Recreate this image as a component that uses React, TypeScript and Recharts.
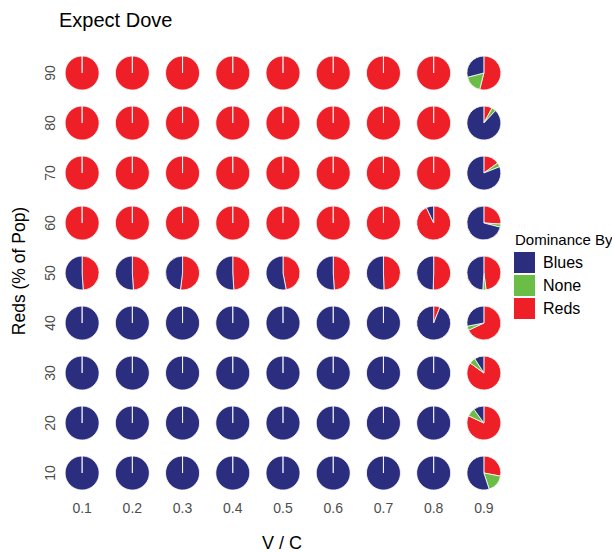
import { ScatterChart, Scatter, XAxis, YAxis, Sector } from "recharts";

const vcValues = [0.1, 0.2, 0.3, 0.4, 0.5, 0.6, 0.7, 0.8, 0.9];
const redsPct = [10, 20, 30, 40, 50, 60, 70, 80, 90];

// one row per redsPct, one column per vcValues
const redsShare = [
  [0, 0, 0, 0, 0, 0, 0, 0, 0.28],
  [0, 0, 0, 0, 0, 0, 0, 0, 0.82],
  [0, 0, 0, 0, 0, 0, 0, 0, 0.85],
  [0, 0, 0, 0, 0, 0, 0, 0.06, 0.68],
  [0.49, 0.49, 0.52, 0.49, 0.47, 0.49, 0.495, 0.505, 0.48],
  [1, 1, 1, 1, 1, 1, 1, 0.93, 0.26],
  [1, 1, 1, 1, 1, 1, 1, 1, 0.15],
  [1, 1, 1, 1, 1, 1, 1, 1, 0.08],
  [1, 1, 1, 1, 1, 1, 1, 1, 0.54],
];
const noneShare = [
  [0, 0, 0, 0, 0, 0, 0, 0, 0.17],
  [0, 0, 0, 0, 0, 0, 0, 0, 0.08],
  [0, 0, 0, 0, 0, 0, 0, 0, 0.06],
  [0, 0, 0, 0, 0, 0, 0, 0, 0.04],
  [0, 0, 0, 0, 0, 0, 0, 0, 0.03],
  [0, 0, 0, 0, 0, 0, 0, 0, 0.03],
  [0, 0, 0, 0, 0, 0, 0, 0, 0.04],
  [0, 0, 0, 0, 0, 0, 0, 0, 0.04],
  [0, 0, 0, 0, 0, 0, 0, 0, 0.17],
];
const bluesShare = [
  [1, 1, 1, 1, 1, 1, 1, 1, 0.55],
  [1, 1, 1, 1, 1, 1, 1, 1, 0.1],
  [1, 1, 1, 1, 1, 1, 1, 1, 0.09],
  [1, 1, 1, 1, 1, 1, 1, 0.94, 0.28],
  [0.51, 0.51, 0.48, 0.51, 0.53, 0.51, 0.505, 0.495, 0.49],
  [0, 0, 0, 0, 0, 0, 0, 0.07, 0.71],
  [0, 0, 0, 0, 0, 0, 0, 0, 0.81],
  [0, 0, 0, 0, 0, 0, 0, 0, 0.88],
  [0, 0, 0, 0, 0, 0, 0, 0, 0.29],
];

const legendLabels = ["Blues", "None", "Reds"];
const COLORS: Record<string, string> = {
  Blues: "#2B2E7F",
  None: "#6BBE45",
  Reds: "#EE1F26",
};

const FONT = "'Liberation Sans', Arial, sans-serif";

const points = redsPct.flatMap((r, i) =>
  vcValues.map((vc, j) => ({
    vc,
    reds: r,
    Reds: redsShare[i][j],
    None: noneShare[i][j],
    Blues: bluesShare[i][j],
  }))
);

// slices run clockwise from 12 o'clock: Reds, None, Blues
const sliceOrder = ["Reds", "None", "Blues"];

function PieGlyph(props: any) {
  const { cx, cy, payload } = props;
  let angle = 90;
  const slices = sliceOrder
    .filter((k) => payload[k] > 0)
    .map((k) => {
      const start = angle;
      angle -= payload[k] * 360;
      return (
        <Sector
          key={k}
          cx={cx}
          cy={cy}
          innerRadius={0}
          outerRadius={17}
          startAngle={start}
          endAngle={angle}
          fill={COLORS[k]}
          stroke="#ffffff"
          strokeWidth={0.8}
        />
      );
    });
  return <g>{slices}</g>;
}

function YTick(props: any) {
  const { x, y, payload } = props;
  return (
    <text
      x={0}
      y={0}
      transform={`translate(${x},${y}) rotate(-90)`}
      textAnchor="middle"
      fontSize={14}
      fontFamily={FONT}
      fill="#4D4D4D"
    >
      {payload.value}
    </text>
  );
}

export default function App() {
  return (
    <div style={{ position: "absolute", left: 0, top: 0, width: 612, height: 552, background: "#fff" }}>
      <ScatterChart
        width={612}
        height={552}
        margin={{ top: 48, right: 103, bottom: 0, left: 0 }}
      >
        <XAxis
          type="number"
          dataKey="vc"
          domain={[0.05, 0.95]}
          ticks={vcValues}
          tickFormatter={(v: number) => v.toFixed(1)}
          axisLine={false}
          tickLine={false}
          tickSize={0}
          tickMargin={5}
          height={54}
          tick={{ fontSize: 14, fill: "#4D4D4D", fontFamily: FONT }}
        />
        <YAxis
          type="number"
          dataKey="reds"
          domain={[5, 95]}
          ticks={redsPct}
          axisLine={false}
          tickLine={false}
          tickSize={0}
          tickMargin={2}
          width={57}
          tick={<YTick />}
        />
        <Scatter data={points} shape={<PieGlyph />} isAnimationActive={false} />
      </ScatterChart>
      <svg
        width={612}
        height={552}
        style={{ position: "absolute", left: 0, top: 0, pointerEvents: "none" }}
        fontFamily={FONT}
      >
        <text x={59} y={27} fontSize={20} fill="#000">
          Expect Dove
        </text>
        <text
          x={0}
          y={0}
          transform="translate(25,271) rotate(-90)"
          textAnchor="middle"
          fontSize={17.5}
          fill="#000"
        >
          Reds (% of Pop)
        </text>
        <text x={282} y={549} textAnchor="middle" fontSize={18} fill="#000">
          V / C
        </text>
        <text x={515} y={245} fontSize={15} fill="#000">
          Dominance By
        </text>
        {legendLabels.map((name, i) => (
          <g key={name}>
            <rect x={514} y={252 + i * 23} width={21} height={21} fill={COLORS[name]} />
            <text x={543} y={268 + i * 23} fontSize={16} fill="#000">
              {name}
            </text>
          </g>
        ))}
      </svg>
    </div>
  );
}
